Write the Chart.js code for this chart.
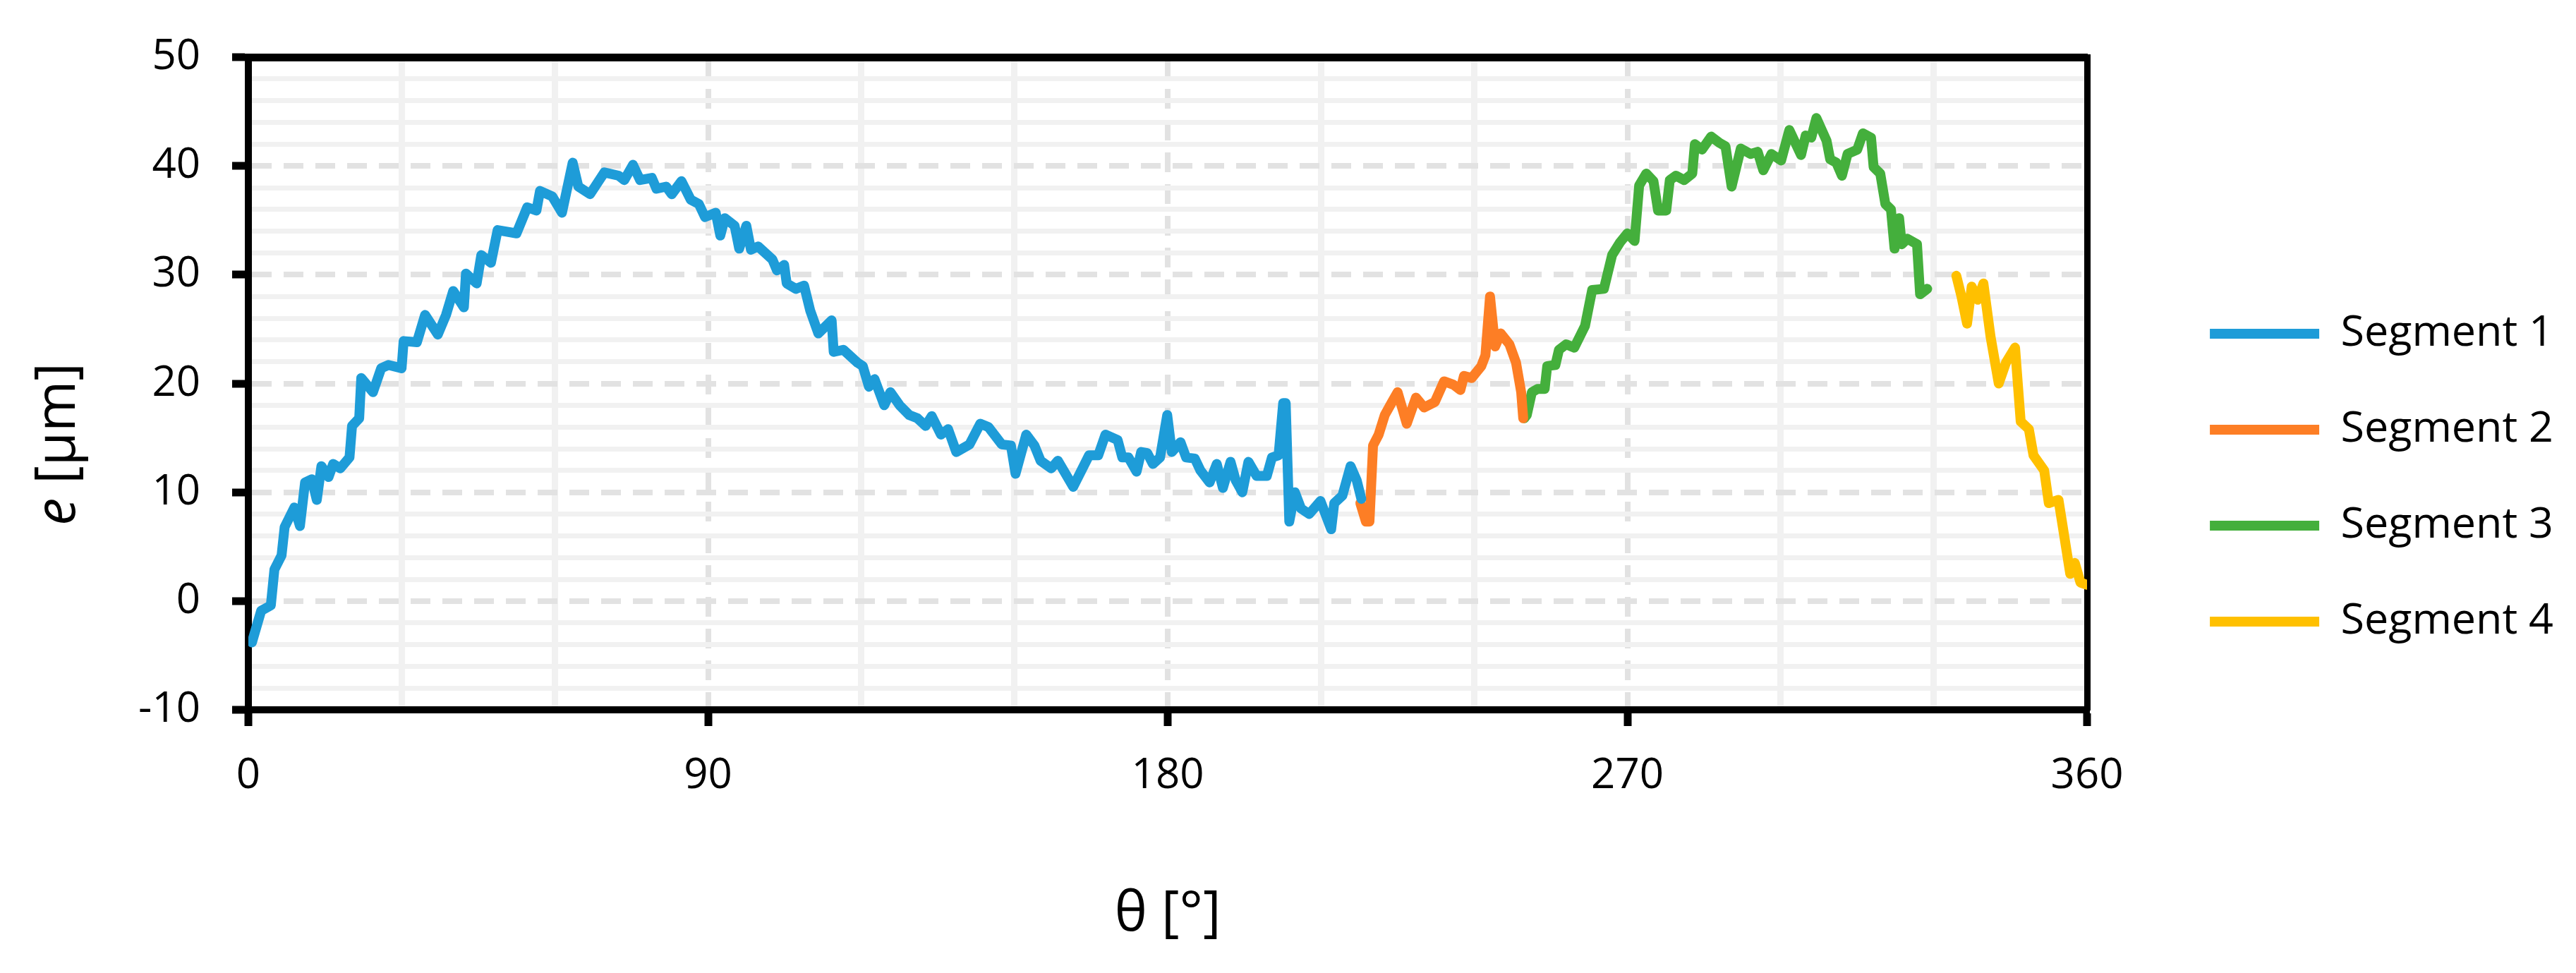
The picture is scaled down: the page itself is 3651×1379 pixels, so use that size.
<!DOCTYPE html>
<html>
<head>
<meta charset="utf-8">
<script src="https://cdn.jsdelivr.net/npm/chart.js@4.4.1/dist/chart.umd.min.js"></script>
<style>
  html, body { margin: 0; padding: 0; background: #fff; }
  canvas { display: block; background: #fff; }
</style>
</head>
<body>
<canvas id="myChart" width="3651" height="1379"></canvas>
<script>
// values: theta [deg] and e [um] for each segment
const seg1Theta = [0.7, 2.5, 4.4, 5.1, 6.5, 7.1, 9.0, 10.1, 11.1, 12.4, 13.4, 14.3, 15.7, 16.6, 18.0, 19.8, 20.3, 21.7, 22.1, 24.4,
  26.0, 27.4, 30.0, 30.4, 33.0, 34.6, 37.1, 38.7, 40.1, 42.2, 42.6, 44.7, 45.6, 47.5, 48.8, 52.5, 54.6, 56.4, 57.1, 59.5,
  61.4, 63.5, 64.6, 66.9, 69.7, 72.5, 73.6, 75.3, 76.7, 79.0, 79.9, 81.8, 82.9, 84.8, 86.6, 88.2, 89.4, 91.5, 92.4, 93.3,
  95.2, 96.1, 97.5, 98.4, 99.8, 102.6, 103.5, 104.9, 105.4, 107.2, 108.8, 110.0, 111.6, 114.2, 114.6, 116.5, 119.3, 120.3, 121.5, 122.6,
  124.5, 125.7, 127.5, 129.4, 131.0, 132.6, 133.8, 135.6, 137.0, 138.6, 141.2, 143.3, 144.9, 147.5, 149.3, 150.2, 152.3, 153.9, 155.1, 157.2,
  158.5, 161.5, 164.6, 166.4, 167.8, 170.2, 171.1, 172.3, 173.9, 174.8, 176.0, 177.1, 178.5, 179.9, 180.8, 182.5, 183.6, 185.3, 186.4, 188.2,
  189.6, 190.8, 192.3, 193.3, 194.6, 195.8, 197.4, 199.4, 200.4, 201.7, 202.6, 203.1, 203.8, 204.9, 206.1, 207.7, 209.9, 212.0, 212.6, 214.2,
  215.8, 217.0, 217.9];
const seg1E = [-3.8, -0.9, -0.4, 2.9, 4.2, 6.8, 8.6, 6.9, 10.9, 11.2, 9.3, 12.4, 11.4, 12.6, 12.2, 13.2, 16.1, 16.8, 20.5, 19.2,
  21.4, 21.7, 21.4, 23.9, 23.8, 26.3, 24.5, 26.3, 28.5, 27.0, 30.1, 29.2, 31.8, 31.1, 34.1, 33.8, 36.2, 35.9, 37.7, 37.2,
  35.7, 40.3, 38.1, 37.4, 39.4, 39.1, 38.7, 40.1, 38.7, 38.9, 37.9, 38.1, 37.4, 38.6, 36.9, 36.5, 35.3, 35.7, 33.6, 35.2,
  34.5, 32.4, 34.5, 32.3, 32.6, 31.4, 30.4, 30.9, 29.2, 28.7, 29.0, 26.7, 24.6, 25.8, 22.9, 23.1, 21.9, 21.6, 19.7, 20.4,
  18.0, 19.2, 18.0, 17.1, 16.8, 16.1, 17.0, 15.3, 15.8, 13.7, 14.4, 16.3, 16.0, 14.4, 14.3, 11.7, 15.3, 14.3, 12.9, 12.2,
  12.9, 10.5, 13.4, 13.4, 15.3, 14.8, 13.2, 13.2, 11.9, 13.7, 13.6, 12.6, 13.2, 17.1, 13.7, 14.6, 13.2, 13.1, 12.0, 10.9,
  12.6, 10.4, 12.8, 11.1, 10.0, 12.8, 11.5, 11.5, 13.2, 13.4, 18.2, 18.2, 7.3, 10.0, 8.5, 8.0, 9.2, 6.6, 9.0, 9.7,
  12.4, 11.1, 9.4];

const seg2Theta = [217.7, 218.8, 219.5, 220.2, 221.3, 222.5, 223.8, 225.0, 226.8, 228.6, 230.2, 232.3, 234.1, 235.9, 237.3, 238.0,
  239.5, 241.4, 242.2, 243.1, 244.1, 245.2, 246.9, 248.2, 249.2, 249.6];
const seg2E = [9.0, 7.3, 7.3, 14.3, 15.3, 17.1, 18.2, 19.2, 16.3, 18.7, 17.8, 18.3, 20.2, 19.9, 19.4, 20.7,
  20.5, 21.6, 22.6, 28.0, 23.4, 24.6, 23.6, 21.9, 19.2, 16.8];

const seg3Theta = [249.8, 250.3, 251.3, 252.4, 253.8, 254.3, 255.9, 256.6, 258.0, 259.6, 261.7, 263.1, 265.4, 267.0, 268.6, 270.0,
  271.4, 272.3, 273.7, 275.1, 276.0, 277.6, 278.3, 279.5, 281.1, 282.7, 283.2, 284.6, 286.4, 288.1, 289.2, 290.4,
  292.2, 294.1, 295.5, 296.6, 298.2, 300.1, 301.7, 304.0, 304.9, 306.0, 307.0, 309.0, 309.7, 310.9, 312.0, 313.1,
  315.0, 316.1, 317.7, 318.2, 319.5, 320.5, 321.6, 322.3, 323.2, 323.7, 324.8, 326.7, 327.3, 328.7];
const seg3E = [16.8, 17.1, 19.2, 19.5, 19.5, 21.6, 21.7, 23.1, 23.6, 23.3, 25.3, 28.6, 28.7, 31.8, 33.0, 33.8,
  33.1, 38.2, 39.3, 38.6, 35.9, 35.9, 38.7, 39.1, 38.7, 39.3, 42.0, 41.5, 42.7, 42.1, 41.8, 38.1,
  41.6, 41.1, 41.3, 39.6, 41.1, 40.5, 43.3, 41.0, 42.8, 42.6, 44.4, 42.3, 40.6, 40.3, 39.1, 41.1,
  41.5, 43.0, 42.6, 39.9, 39.3, 36.5, 36.0, 32.4, 35.2, 32.8, 33.3, 32.8, 28.2, 28.7];

const seg4Theta = [334.4, 335.4, 336.5, 337.4, 338.6, 339.7, 341.1, 342.7, 344.1, 345.9, 347.0, 348.6, 349.5, 351.6, 352.5, 354.4,
  356.7, 357.6, 358.7, 359.9];
const seg4E = [29.9, 28.0, 25.5, 28.9, 27.7, 29.2, 24.3, 20.0, 21.9, 23.3, 16.5, 15.8, 13.4, 12.0, 9.0, 9.3,
  2.5, 3.5, 1.7, 1.5];

const segNames = ['Segment 1', 'Segment 2', 'Segment 3', 'Segment 4'];
const segColors = ['#1e9cd8', '#fd7e25', '#44af3c', '#ffc000'];

const xTicks = [0, 30, 60, 90, 120, 150, 180, 210, 240, 270, 300, 330, 360];
const yTicks = [-10, -8, -6, -4, -2, 0, 2, 4, 6, 8, 10, 12, 14, 16, 18, 20, 22, 24, 26, 28, 30,
  32, 34, 36, 38, 40, 42, 44, 46, 48, 50];

const xTitle = 'θ [°]';
const yTitleVar = 'e';
const yTitleUnit = ' [µm]';

const FONT = "'Open Sans', sans-serif";

function toPoints(theta, e) {
    return theta.map((t, i) => ({x: t, y: e[i]}));
}

const segments = [
    toPoints(seg1Theta, seg1E),
    toPoints(seg2Theta, seg2E),
    toPoints(seg3Theta, seg3E),
    toPoints(seg4Theta, seg4E)
];

const datasets = segments.map((pts, i) => ({
    label: segNames[i],
    data: pts,
    xAxisID: 'x',
    yAxisID: 'y',
    borderColor: segColors[i],
    backgroundColor: segColors[i],
    borderWidth: 14,
    borderJoinStyle: 'round',
    borderCapStyle: 'round',
    pointRadius: 0,
    pointHoverRadius: 0,
    tension: 0,
    fill: false
}));

function isMajor(ctx, step) {
    return ctx.tick && Math.abs(ctx.tick.value % step) < 1e-9;
}

// y axis title has an italic "e", so it is drawn here
const yTitlePlugin = {
    id: 'yTitle',
    afterDraw(chart) {
        const ctx = chart.ctx;
        const area = chart.chartArea;
        const italic = "italic 78px " + FONT;
        const normal = "78px " + FONT;
        ctx.save();
        ctx.translate(84, (area.top + area.bottom) / 2 + 86);
        ctx.rotate(-Math.PI / 2);
        ctx.fillStyle = '#000';
        ctx.textBaseline = 'middle';
        ctx.textAlign = 'left';
        ctx.font = italic;
        const w1 = ctx.measureText(yTitleVar).width;
        ctx.font = normal;
        const w2 = ctx.measureText(yTitleUnit).width;
        const x0 = -(w1 + w2) / 2;
        ctx.font = italic;
        ctx.fillText(yTitleVar, x0, 0);
        ctx.font = normal;
        ctx.fillText(yTitleUnit, x0 + w1, 0);
        ctx.restore();
    }
};

new Chart(document.getElementById('myChart'), {
    type: 'line',
    data: {datasets: datasets},
    plugins: [yTitlePlugin],
    options: {
        responsive: false,
        animation: false,
        devicePixelRatio: 1,
        layout: {padding: {top: 0, right: 22, bottom: 25, left: 0}},
        plugins: {
            tooltip: {enabled: false},
            legend: {
                position: 'right',
                labels: {
                    usePointStyle: true,
                    pointStyle: 'line',
                    pointStyleWidth: 155,
                    padding: 75,
                    color: '#000',
                    font: {family: FONT, size: 61}
                }
            }
        },
        scales: {
            x: {
                type: 'linear',
                position: 'bottom',
                min: 0,
                max: 360,
                afterBuildTicks: (scale) => { scale.ticks = xTicks.map(v => ({value: v})); },
                afterFit: (scale) => { scale.height = 348; },
                ticks: {
                    autoSkip: false,
                    maxRotation: 0,
                    padding: 35,
                    color: '#000',
                    font: {family: FONT, size: 60, lineHeight: 1.2},
                    callback: (v) => (v % 90 === 0 ? String(v) : '')
                },
                grid: {
                    color: (ctx) => (isMajor(ctx, 90) ? '#e2e2e2' : '#f1f1f1'),
                    lineWidth: (ctx) => (isMajor(ctx, 90) ? 8 : 9),
                    tickColor: (ctx) => (isMajor(ctx, 90) ? '#000' : 'rgba(0,0,0,0)'),
                    tickLength: 23,
                    tickWidth: 11
                },
                border: {
                    color: '#000',
                    width: 10,
                    dash: (ctx) => (isMajor(ctx, 90) ? [28, 17] : [])
                },
                title: {
                    display: true,
                    text: xTitle,
                    color: '#000',
                    font: {family: FONT, size: 78, lineHeight: 1},
                    padding: {top: 0, bottom: 18}
                }
            },
            y: {
                type: 'linear',
                position: 'left',
                min: -10,
                max: 50,
                afterBuildTicks: (scale) => { scale.ticks = yTicks.map(v => ({value: v})); },
                afterFit: (scale) => { scale.width = 352; },
                ticks: {
                    autoSkip: false,
                    padding: 45,
                    color: '#000',
                    font: {family: FONT, size: 60},
                    callback: (v) => (v % 10 === 0 ? String(v) : '')
                },
                grid: {
                    color: (ctx) => (isMajor(ctx, 10) ? '#e2e2e2' : '#f1f1f1'),
                    lineWidth: (ctx) => (isMajor(ctx, 10) ? 8 : 7),
                    tickColor: (ctx) => (isMajor(ctx, 10) ? '#000' : 'rgba(0,0,0,0)'),
                    tickLength: 23,
                    tickWidth: 11
                },
                border: {
                    color: '#000',
                    width: 10,
                    dash: (ctx) => (isMajor(ctx, 10) ? [28, 17] : [])
                }
            },
            // frame lines on top and right of the plot
            x2: {
                type: 'linear',
                position: 'top',
                afterFit: (scale) => { scale.height = 72; },
                ticks: {display: false},
                grid: {display: false, drawTicks: false},
                border: {color: '#000', width: 11}
            },
            y2: {
                type: 'linear',
                position: 'right',
                afterFit: (scale) => { scale.width = 99; },
                ticks: {display: false},
                grid: {display: false, drawTicks: false},
                border: {color: '#000', width: 9}
            }
        }
    }
});
</script>
</body>
</html>
